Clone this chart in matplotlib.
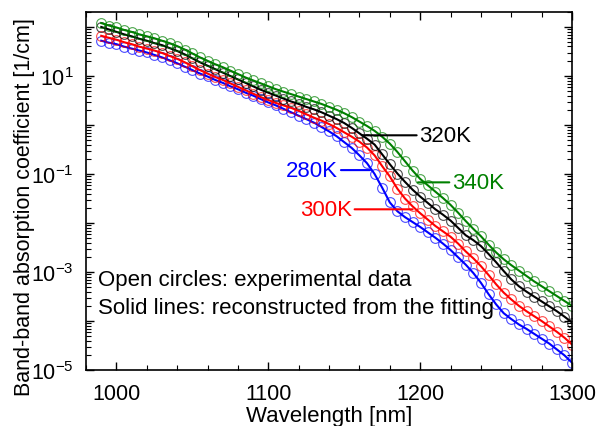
import numpy as np
import matplotlib
matplotlib.use('Agg')
import matplotlib.pyplot as plt
from matplotlib.ticker import LogLocator, FuncFormatter, MultipleLocator, NullFormatter

plt.rcParams['font.family'] = ['Liberation Sans', 'DejaVu Sans']
plt.rcParams['mathtext.fontset'] = 'custom'
plt.rcParams['mathtext.rm'] = 'Liberation Sans'
plt.rcParams['mathtext.it'] = 'Liberation Sans:italic'

# wavelength grid of the measured points [nm]
wavelength = np.arange(990, 1301, 5)

# log10 of absorption coefficient [1/cm]
log_alpha_280 = [1.72, 1.68, 1.65, 1.60, 1.56, 1.52, 1.48, 1.43, 1.38, 1.32,
                 1.26, 1.19, 1.12, 1.05, 0.99, 0.92, 0.86, 0.79, 0.73, 0.66,
                 0.60, 0.53, 0.46, 0.40, 0.33, 0.26, 0.19, 0.12, 0.05, -0.04,
                 -0.13, -0.23, -0.35, -0.47, -0.62, -0.78, -1.00, -1.28, -1.58, -1.76,
                 -1.88, -1.98, -2.08, -2.19, -2.30, -2.42, -2.55, -2.70, -2.85, -3.02,
                 -3.22, -3.45, -3.66, -3.84, -3.96, -4.07, -4.16, -4.26, -4.36, -4.46,
                 -4.58, -4.70, -4.85]
log_alpha_300 = [1.82, 1.78, 1.74, 1.69, 1.65, 1.60, 1.56, 1.52, 1.47, 1.41,
                 1.35, 1.28, 1.20, 1.12, 1.05, 0.98, 0.92, 0.85, 0.78, 0.71,
                 0.64, 0.57, 0.51, 0.45, 0.40, 0.35, 0.29, 0.22, 0.15, 0.09,
                 0.02, -0.06, -0.15, -0.24, -0.34, -0.46, -0.62, -0.84, -1.05, -1.30,
                 -1.50, -1.66, -1.80, -1.93, -2.06, -2.17, -2.28, -2.42, -2.58, -2.72,
                 -2.88, -3.06, -3.25, -3.42, -3.56, -3.69, -3.80, -3.90, -4.00, -4.11,
                 -4.22, -4.34, -4.48]
log_alpha_320 = [2.00, 1.95, 1.90, 1.85, 1.81, 1.76, 1.72, 1.67, 1.63, 1.57,
                 1.51, 1.44, 1.36, 1.28, 1.21, 1.14, 1.07, 1.00, 0.93, 0.86,
                 0.79, 0.72, 0.66, 0.60, 0.54, 0.48, 0.43, 0.37, 0.32, 0.26,
                 0.19, 0.12, 0.04, -0.06, -0.17, -0.28, -0.40, -0.60, -0.80, -0.99,
                 -1.16, -1.32, -1.46, -1.59, -1.72, -1.83, -1.95, -2.10, -2.25, -2.35,
                 -2.47, -2.63, -2.80, -2.98, -3.15, -3.29, -3.40, -3.50, -3.60, -3.70,
                 -3.80, -3.91, -4.03]
log_alpha_340 = [2.08, 2.03, 1.99, 1.94, 1.90, 1.85, 1.81, 1.77, 1.72, 1.67,
                 1.61, 1.54, 1.46, 1.38, 1.31, 1.24, 1.18, 1.11, 1.04, 0.97,
                 0.91, 0.85, 0.79, 0.73, 0.68, 0.63, 0.58, 0.53, 0.48, 0.43,
                 0.37, 0.31, 0.24, 0.16, 0.07, -0.02, -0.12, -0.24, -0.38, -0.55,
                 -0.74, -0.93, -1.10, -1.23, -1.36, -1.49, -1.63, -1.79, -1.96, -2.12,
                 -2.27, -2.44, -2.60, -2.74, -2.86, -2.97, -3.08, -3.19, -3.29, -3.39,
                 -3.49, -3.59, -3.69]

series = [
    ('280K', log_alpha_280, '#0000ff'),
    ('300K', log_alpha_300, '#ff0000'),
    ('320K', log_alpha_320, '#000000'),
    ('340K', log_alpha_340, '#008000'),
]

fig = plt.figure(figsize=(6.06, 4.27), dpi=100)
ax = fig.add_axes([0.142, 0.131, 0.802, 0.838])

for name, vals, col in series:
    alpha = 10 ** np.array(vals)
    ax.plot(wavelength, alpha, 'o', mfc='none', mec=col, ms=7, mew=0.8, alpha=0.7)
    ax.plot(wavelength, alpha, '-', color=col, lw=1.5)

ax.set_yscale('log')
ax.set_xlim(980, 1300)
ax.set_ylim(1e-5, 200)

ax.xaxis.set_major_locator(MultipleLocator(100))
ax.xaxis.set_minor_locator(MultipleLocator(20))
ax.yaxis.set_major_locator(LogLocator(base=10, numticks=20))
ax.yaxis.set_minor_locator(LogLocator(base=10, subs=np.arange(2, 10), numticks=20))
ax.yaxis.set_minor_formatter(NullFormatter())


def odd_decades(v, pos):
    e = int(round(np.log10(v)))
    if e % 2 == 0:
        return ''
    return r'$\mathregular{10^{%d}}$' % e


ax.yaxis.set_major_formatter(FuncFormatter(odd_decades))

ax.tick_params(which='both', direction='in', top=True, right=True, labelsize=15.5)
ax.tick_params(which='major', length=6, width=1, pad=9)
ax.tick_params(which='minor', length=3.5, width=0.8)
for s in ax.spines.values():
    s.set_linewidth(1.2)

ax.set_xlabel('Wavelength [nm]', fontsize=16, labelpad=1)
ax.set_ylabel('Band-band absorption coefficient [1/cm]', fontsize=15.5)
ax.yaxis.set_label_coords(-0.105, 0.458)

lab = dict(fontsize=16, va='center')
ax.annotate('320K', xy=(1161.5, 10 ** -0.21), xytext=(1199.5, 10 ** -0.21),
            color='black', arrowprops=dict(arrowstyle='-', color='black', lw=1.5,
                                           shrinkA=0, shrinkB=0), ha='left', **lab)
ax.annotate('340K', xy=(1198.5, 10 ** -1.17), xytext=(1221, 10 ** -1.17),
            color='#008000', arrowprops=dict(arrowstyle='-', color='#008000', lw=1.5,
                                             shrinkA=0, shrinkB=0), ha='left', **lab)
ax.annotate('280K', xy=(1167, 10 ** -0.92), xytext=(1146, 10 ** -0.92),
            color='#0000ff', arrowprops=dict(arrowstyle='-', color='#0000ff', lw=1.5,
                                             shrinkA=0, shrinkB=0), ha='right', **lab)
ax.annotate('300K', xy=(1195, 10 ** -1.72), xytext=(1155, 10 ** -1.72),
            color='#ff0000', arrowprops=dict(arrowstyle='-', color='#ff0000', lw=1.5,
                                             shrinkA=0, shrinkB=0), ha='right', **lab)

ax.text(0.025, 0.254, 'Open circles: experimental data', transform=ax.transAxes,
        fontsize=16, va='center')
ax.text(0.025, 0.176, 'Solid lines: reconstructed from the fitting', transform=ax.transAxes,
        fontsize=16, va='center')

fig.savefig('out.png', dpi=100)
